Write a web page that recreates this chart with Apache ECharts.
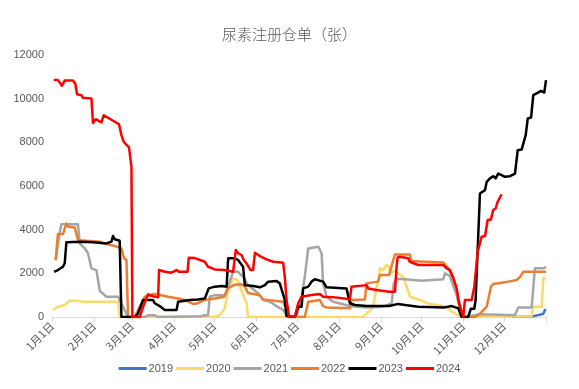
<!DOCTYPE html>
<html>
<head>
<meta charset="utf-8">
<script src="https://cdn.jsdelivr.net/npm/echarts@6/dist/echarts.min.js"></script>
<style>
html,body{margin:0;padding:0;background:#fff;}
#chart{width:579px;height:389px;}
</style>
</head>
<body>
<div id="chart"></div>
<script>
// x values are day-of-year (0 = 1月1日, 365 = 12月31日)
const monthStarts = [0, 31, 59, 90, 120, 151, 181, 212, 243, 273, 304, 334];
const monthLabels = ['1月1日','2月1日','3月1日','4月1日','5月1日','6月1日','7月1日','8月1日','9月1日','10月1日','11月1日','12月1日'];
const yearNames = ['2019','2020','2021','2022','2023','2024'];

const s2019 = [[340,0],[355.6,40],[360.5,100],[363,150],[364.2,320],[365,350]];

const s2020 = [[0.7,320],[4.4,470],[9.4,550],[13.1,750],[18,750],[22.9,700],[48.8,700],[50,0],
  [119,0],[120.3,80],[124,80],[127.7,400],[130.1,1240],[133.8,1770],[135.8,1730],[137.5,1620],[140,1200],[143.7,630],[144.9,0],
  [229.7,0],[232.4,150],[234.8,290],[237.3,470],[238.5,930],[241,1690],[242.3,2230],[244.7,2150],[247.2,2380],[249.1,2300],
  [249.6,2000],[253.4,2120],[255.8,2000],[259.5,1840],[262,1400],[264.4,930],[271.8,780],[276.8,630],[284.2,550],[291.6,470],
  [295.3,250],[300.2,80],[303.9,0],[354.4,40],[355.6,470],[361.8,470],[363,1770],[365,1770]];

const s2021 = [[2.7,2600],[5.2,3680],[6.9,4250],[19.2,4250],[20.5,3370],[24.2,3140],[26.6,2920],[29.1,2230],[32.8,2150],
  [35.3,1200],[40.2,930],[48.8,930],[52.5,470],[56.2,0],[68.5,0],[71,80],[75.9,80],[78.4,0],[110.5,40],[112.9,80],[115.3,80],
  [116.6,930],[120.3,1000],[127.7,1000],[130.1,1390],[133.8,2070],[137.5,2070],[141.2,1840],[144.9,1460],[148.6,1270],
  [152.4,1080],[156,780],[161,700],[165.9,500],[170.8,320],[173.3,80],[180.7,0],[184.4,930],[186.8,1840],[189.3,3140],
  [190.5,3220],[196.7,3220],[199.2,2920],[200.3,1540],[202.9,930],[207.7,700],[220.1,500],[232.4,440],[242.3,470],[246,500],
  [251,630],[252.5,1540],[254.6,1750],[260.8,1730],[273.1,1660],[289.1,1730],[290.3,2000],[294,1880],[296.5,1420],[299,1000],
  [301.4,400],[303.9,0],[312.6,80],[316.2,130],[342,80],[344.5,440],[354.4,440],[356.8,2230],[363.5,2230],[365,2300]];

const s2022 = [[2.7,2610],[4.4,3800],[8.1,3800],[10.6,4280],[11.8,4140],[16.8,4100],[19.2,3520],[35.3,3450],[40.2,3340],
  [46.4,3250],[51.3,3140],[53.2,2690],[55,2610],[56.2,0],[61.1,0],[64.8,470],[68.5,930],[75.9,1050],[80.9,1000],[85.8,930],
  [93.2,850],[98.1,780],[104.2,600],[107.9,630],[112.9,780],[120.3,850],[127.2,930],[130.1,1310],[135.1,1480],[140,1500],
  [142.5,1390],[144.9,1100],[153.6,1000],[156,800],[170.8,700],[173.3,320],[174.5,0],[186.8,0],[189.3,700],[197.9,780],
  [200.3,500],[202.9,440],[220.1,400],[221.3,780],[231.2,800],[232.4,1540],[241,1620],[242.3,1920],[249.1,1920],[252.1,2610],
  [253.4,2860],[264.4,2860],[265.7,2560],[271.8,2540],[289.1,2500],[292.8,2230],[296.5,1840],[299,1240],[302.7,150],[303.9,0],
  [312.6,0],[316.2,150],[321.2,470],[324.3,1390],[326,1510],[332.2,1570],[337.1,1620],[343.3,1690],[345.8,1840],[348.2,2070],
  [365,2070]];

const s2023 = [[1.5,2070],[4.4,2150],[8.1,2300],[9.4,2460],[10.6,3420],[21.7,3450],[30.3,3420],[40.2,3370],[43.9,3450],
  [45.1,3710],[46.4,3560],[47.6,3490],[50,3490],[51.3,0],[61.1,0],[63.6,170],[67.3,780],[74.7,780],[75.9,630],[79.6,500],
  [83.3,320],[92,320],[93.2,700],[101.8,780],[107.9,800],[112.9,850],[115.8,1310],[120.3,1390],[125.7,1420],[129,1390],
  [130.2,2690],[135.1,2690],[137.5,2610],[141.2,2300],[142.5,1460],[148.6,1420],[153.6,1360],[157.3,1460],[159.7,1620],
  [165.9,1650],[168.3,1540],[169.6,1460],[172,780],[173.3,40],[179.4,0],[181.9,470],[184.4,470],[185.6,1310],[189.3,1390],
  [191.8,1620],[194.2,1730],[200.3,1620],[202.9,1360],[217.6,1310],[220.1,630],[223.8,550],[232.4,500],[249.1,500],
  [255.8,600],[260.8,550],[270.6,470],[290.3,440],[295.3,500],[300.2,400],[302.7,0],[307.5,0],[309.5,380],[312,380],
  [313,780],[316.2,5660],[319.9,5810],[321.2,6190],[323.6,6350],[326,6450],[327.8,6350],[329.7,6570],[332.2,6500],
  [334.7,6420],[338.4,6450],[342.1,6570],[344.1,7640],[347,7670],[350,8330],[351.5,9090],[354,9140],[355.6,10160],
  [358.1,10240],[361.3,10360],[363.7,10280],[365,10850]];

const s2024 = [[1.3,10850],[4.4,10850],[7.4,10590],[9.4,10830],[15.5,10830],[17.3,10660],[18.5,10200],[21.7,10160],
  [22.9,10040],[29.1,10010],[30.3,8890],[32.3,9060],[36.5,8910],[38.2,9240],[49.5,8830],[51.3,8330],[53,8020],[56.9,7770],
  [58.7,6880],[59.4,0],[64.8,0],[67.3,470],[71,1040],[74.7,950],[78.4,900],[79.1,2150],[83.3,2070],[88.3,2030],[92,2150],
  [93.7,2070],[100.1,2070],[101.1,2710],[105.5,2700],[106.8,2620],[112.9,2530],[115.3,2300],[120.3,2180],[127.2,2150],
  [133.8,2070],[135.8,3070],[137.5,2920],[140,2840],[141.7,2610],[143.7,2460],[146.7,2150],[148.6,2150],[149.9,2940],
  [153.6,2790],[158.5,2640],[163.4,2530],[170.8,2480],[172,1840],[173.3,780],[175.2,0],[179.4,0],[181.9,630],[184.4,930],
  [191.8,1010],[197.9,1050],[200.3,930],[207.7,910],[220.1,810],[221.3,1390],[232.4,1460],[233.6,1310],[239.8,1240],
  [249.1,1160],[253.4,1160],[254.6,2300],[255.4,2730],[257,2760],[263.2,2690],[264.4,2530],[265.7,2480],[270.6,2380],
  [289.1,2380],[291.6,2230],[294,2150],[296.5,1770],[297.7,1690],[299,1310],[300.7,630],[303.9,0],[305.1,780],[310.1,780],
  [312,1390],[313,2000],[314.5,2990],[317.5,3680],[320,3710],[321.9,4440],[324.3,4470],[326,4900],[327.8,4970],[329.3,5280],
  [332.2,5620]];

const seriesData = [s2019, s2020, s2021, s2022, s2023, s2024];
const colors = ['#4472C4', '#FFD966', '#A5A5A5', '#ED7D31', '#000000', '#FF0000'];

const chart = echarts.init(document.getElementById('chart'));
const tickVals = monthStarts.concat([365]);
chart.setOption({
  animation: false,
  backgroundColor: '#fff',
  title: {
    text: '尿素注册仓单（张）',
    left: 'center',
    top: 22,
    textStyle: { fontFamily: 'Noto Sans CJK SC', fontSize: 15, fontWeight: 300, color: '#595959' }
  },
  legend: {
    bottom: 10,
    left: 'center',
    icon: 'rect',
    itemWidth: 28,
    itemHeight: 3,
    itemGap: 3,
    textStyle: { fontFamily: 'Liberation Sans', fontSize: 11, color: '#595959', padding: [0, 0, 0, -3] },
    data: yearNames
  },
  grid: { left: 52, right: 33, top: 55, bottom: 72 },
  xAxis: {
    type: 'value',
    min: 0,
    max: 365,
    splitLine: { show: false },
    axisLine: { show: true, lineStyle: { color: '#D9D9D9', width: 1 } },
    axisTick: { show: true, length: 5, lineStyle: { color: '#D9D9D9' }, customValues: tickVals },
    axisLabel: {
      customValues: monthStarts,
      rotate: 45,
      fontSize: 11,
      color: '#595959',
      fontFamily: 'Noto Sans CJK SC',
      margin: 7,
      formatter: function (v) {
        const i = monthStarts.indexOf(Math.round(v));
        return i >= 0 ? monthLabels[i] : '';
      }
    }
  },
  yAxis: {
    type: 'value',
    min: 0,
    max: 12000,
    interval: 2000,
    splitLine: { show: false },
    axisLine: { show: false },
    axisTick: { show: false },
    axisLabel: {
      fontSize: 11, color: '#595959', margin: 8, fontFamily: 'Liberation Sans',
      formatter: function (v) { return String(v); }
    }
  },
  series: yearNames.map(function (name, i) {
    return {
      name: name,
      type: 'line',
      data: seriesData[i],
      showSymbol: false,
      symbol: 'none',
      color: colors[i],
      lineStyle: { width: 2.5, color: colors[i], join: 'round' },
      z: 2 + i
    };
  })
});
</script>
</body>
</html>
